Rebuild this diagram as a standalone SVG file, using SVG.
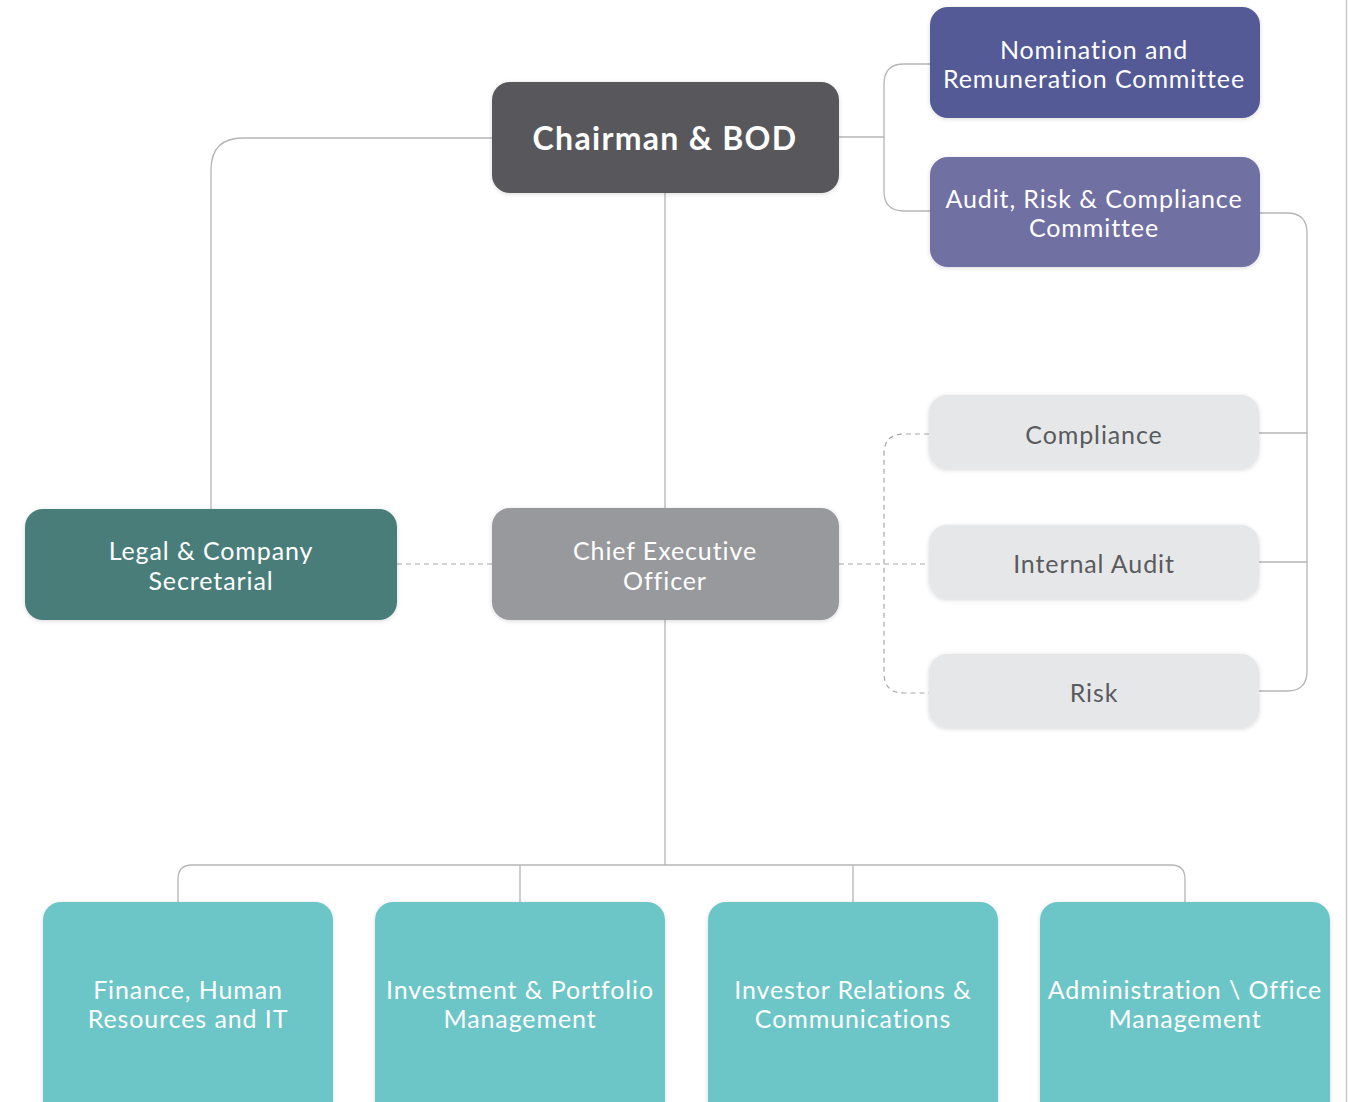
<svg xmlns="http://www.w3.org/2000/svg" width="1348" height="1102" viewBox="0 0 1348 1102">
<defs>
<filter id="sh" x="-10%" y="-20%" width="120%" height="140%">
<feDropShadow dx="0" dy="1" stdDeviation="2" flood-color="#000" flood-opacity="0.15"/>
</filter>
</defs>
<style>
.ln{fill:none;stroke:#b5b5b5;stroke-width:1.3}
.dl{fill:none;stroke:#a8a8a8;stroke-width:1.2;stroke-dasharray:5 4}
.box{filter:url(#sh)}
.t{font-family:Lato,"Open Sans","Liberation Sans",sans-serif;font-size:25px;letter-spacing:0.9px;text-anchor:middle;fill:#fff}
.tg{fill:#5a5b5e}
.tb{font-weight:bold;font-size:32px;letter-spacing:1.3px}
</style>
<rect width="1348" height="1102" fill="#fff"/>
<line x1="1346.5" y1="0" x2="1346.5" y2="1102" stroke="#c8c8c8" stroke-width="1.5"/>
<g id="connectors">
<path class="ln" d="M492,138 H243 Q211,138 211,170 V509"/>
<path class="ln" d="M839,137 H884"/>
<path class="ln" d="M930,64 H904 Q884,64 884,84 V191 Q884,211 904,211 H930"/>
<path class="ln" d="M665,193 V508"/>
<path class="ln" d="M665,620 V865"/>
<path class="ln" d="M520,865 V902 M853,865 V902"/>
<path class="ln" d="M178,902 V879 Q178,865 192,865 H1171 Q1185,865 1185,879 V902"/>
<path class="ln" d="M1260,213 H1287 Q1307,213 1307,233 V671 Q1307,691 1287,691 H1259"/>
<path class="ln" d="M1259,433 H1307 M1259,562 H1307"/>
<path class="dl" d="M397,564 H492"/>
<path class="dl" d="M839,564 H929"/>
<path class="dl" d="M929,434 H904 Q884,434 884,454 V673 Q884,693 904,693 H929"/>
</g>
<g id="chairman"><rect class="box" x="492" y="82" width="347" height="111" rx="18" fill="#58595b"/><text class="t tb" x="665" y="150">Chairman &amp; BOD</text></g>
<g id="nomination"><rect class="box" x="930" y="7" width="330" height="111" rx="18" fill="#535a96"/><text class="t" x="1094" y="59">Nomination and</text><text class="t" x="1094" y="88">Remuneration Committee</text></g>
<g id="arc"><rect class="box" x="930" y="157" width="330" height="110" rx="18" fill="#7070a3"/><text class="t" x="1094" y="208">Audit, Risk &amp; Compliance</text><text class="t" x="1094" y="237">Committee</text></g>
<g id="compliance"><rect class="box" x="929" y="395" width="330" height="74" rx="18" fill="#e6e7e8"/><text class="t tg" x="1094" y="444">Compliance</text></g>
<g id="internal-audit"><rect class="box" x="929" y="525" width="330" height="74" rx="18" fill="#e6e7e8"/><text class="t tg" x="1094" y="573">Internal Audit</text></g>
<g id="risk"><rect class="box" x="929" y="654" width="330" height="74" rx="18" fill="#e6e7e8"/><text class="t tg" x="1094" y="702">Risk</text></g>
<g id="legal"><rect class="box" x="25" y="509" width="372" height="111" rx="18" fill="#487d7a"/><text class="t" x="211" y="560">Legal &amp; Company</text><text class="t" x="211" y="590">Secretarial</text></g>
<g id="ceo"><rect class="box" x="492" y="508" width="347" height="112" rx="18" fill="#98999c"/><text class="t" x="665" y="560">Chief Executive</text><text class="t" x="665" y="590">Officer</text></g>
<g id="finance"><rect class="box" x="43" y="902" width="290" height="220" rx="18" fill="#6cc5c6"/><text class="t" x="188" y="999">Finance, Human</text><text class="t" x="188" y="1028">Resources and IT</text></g>
<g id="investment"><rect class="box" x="375" y="902" width="290" height="220" rx="18" fill="#6cc5c6"/><text class="t" x="520" y="999">Investment &amp; Portfolio</text><text class="t" x="520" y="1028">Management</text></g>
<g id="investor"><rect class="box" x="708" y="902" width="290" height="220" rx="18" fill="#6cc5c6"/><text class="t" x="853" y="999">Investor Relations &amp;</text><text class="t" x="853" y="1028">Communications</text></g>
<g id="admin"><rect class="box" x="1040" y="902" width="290" height="220" rx="18" fill="#6cc5c6"/><text class="t" x="1185" y="999">Administration \ Office</text><text class="t" x="1185" y="1028">Management</text></g>
</svg>
